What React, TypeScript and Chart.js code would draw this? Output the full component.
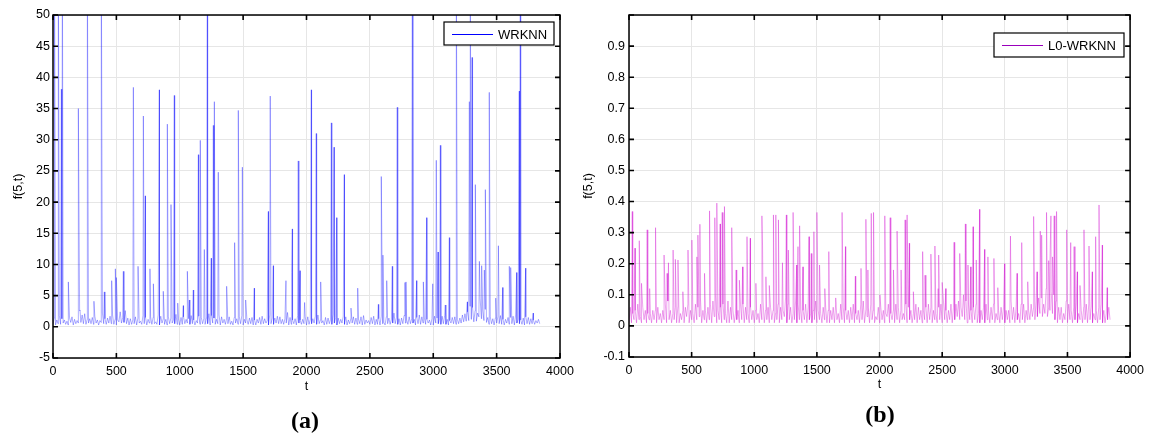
import React, { useEffect, useRef } from 'react';
import { Chart, registerables } from 'chart.js';

Chart.register(...registerables);

// ---------- data ----------
const tMin = 0;
const tMax = 4000;
const tStep = 500;
const baseStep = 10; // spacing (in t) of the background readings below

// Panel (a): WRKNN, background band (t = 0, 10, 20, ... 3840)
const baseA = [
  0.4, 1.4, 0.3, 1.1, 0.5, 1.8, 0.4, 1.3, 0.6, 1.1, 0.4, 0.9, 0.3, 1.5, 0.7, 1.6, 0.3, 1.2, 0.5, 1.0,
  0.6, 2.6, 0.7, 1.9, 0.5, 2.1, 0.4, 1.2, 0.6, 1.3, 0.5, 1.5, 0.4, 1.7, 0.6, 1.1, 0.3, 1.0, 0.7, 2.2,
  0.5, 1.3, 0.4, 1.4, 0.6, 1.7, 0.5, 1.9, 0.4, 1.2, 0.3, 1.1, 0.8, 2.4, 0.6, 1.5, 0.7, 2.6, 0.5, 1.4,
  0.3, 1.3, 0.4, 1.1, 0.5, 1.6, 0.3, 1.4, 0.6, 0.9, 0.4, 1.8, 0.5, 1.5, 0.3, 1.2, 0.6, 1.6, 0.4, 1.5,
  0.5, 0.8, 0.4, 1.9, 0.3, 1.7, 0.6, 1.3, 0.4, 1.2, 0.3, 1.6, 0.5, 1.4, 0.6, 1.1, 0.5, 2.0, 0.4, 1.3,
  0.3, 1.5, 0.4, 1.6, 0.5, 1.2, 0.6, 1.3, 0.4, 1.8, 0.5, 1.1, 0.3, 1.0, 0.6, 1.7, 0.4, 1.5, 0.5, 1.3,
  0.4, 1.4, 0.5, 2.1, 0.3, 1.8, 0.6, 1.4, 0.4, 1.2, 0.5, 1.9, 0.3, 1.6, 0.6, 1.2, 0.4, 1.4, 0.5, 1.6,
  0.4, 0.9, 0.3, 1.5, 0.6, 1.3, 0.4, 1.6, 0.5, 1.8, 0.3, 1.2, 0.6, 1.1, 0.4, 1.4, 0.5, 1.5, 0.3, 1.1,
  0.3, 1.2, 0.6, 1.5, 0.4, 1.7, 0.5, 1.3, 0.6, 1.0, 0.3, 1.9, 0.5, 1.4, 0.4, 1.4, 0.6, 1.7, 0.5, 1.6,
  0.5, 1.2, 0.4, 1.3, 0.6, 2.3, 0.3, 1.5, 0.4, 1.1, 0.5, 1.3, 0.3, 1.8, 0.6, 1.1, 0.4, 1.2, 0.5, 1.6,
  0.3, 1.6, 0.4, 1.2, 0.5, 1.3, 0.6, 1.7, 0.4, 1.9, 0.5, 1.1, 0.6, 1.0, 0.3, 1.5, 0.4, 1.4, 0.5, 1.2,
  0.4, 2.0, 0.6, 1.5, 0.3, 1.4, 0.5, 1.2, 0.6, 1.7, 0.4, 1.6, 0.3, 1.1, 0.5, 1.3, 0.6, 1.6, 0.4, 1.4,
  0.4, 1.3, 0.5, 1.6, 0.3, 1.8, 0.4, 1.1, 0.6, 1.0, 0.4, 1.5, 0.5, 1.7, 0.3, 1.2, 0.4, 1.3, 0.3, 1.7,
  0.5, 0.7, 0.3, 1.6, 0.5, 1.4, 0.4, 1.2, 0.6, 2.2, 0.5, 1.5, 0.4, 1.3, 0.3, 1.4, 0.5, 1.8, 0.6, 1.1,
  0.4, 1.6, 0.5, 1.3, 0.6, 1.2, 0.3, 1.5, 0.5, 1.9, 0.4, 1.6, 0.6, 1.4, 0.4, 1.2, 0.6, 1.1, 0.3, 1.3,
  0.3, 1.7, 0.6, 1.4, 0.5, 1.3, 0.4, 1.7, 0.5, 1.8, 0.4, 1.2, 0.3, 1.0, 0.6, 1.5, 0.5, 1.6, 0.4, 1.2,
  0.5, 1.4, 0.6, 1.9, 0.8, 2.1, 0.9, 2.4, 1.0, 3.3, 1.2, 3.1, 0.8, 2.6, 0.9, 2.2, 1.6, 4.5, 1.3, 2.7,
  1.0, 2.8, 0.7, 1.5, 0.4, 1.6, 0.5, 1.3, 0.3, 1.4, 0.6, 1.6, 0.5, 1.8, 0.4, 1.2, 0.3, 1.2, 0.6, 1.5,
  0.4, 1.5, 0.5, 1.7, 0.3, 1.9, 0.6, 1.2, 0.5, 1.1, 0.4, 1.4, 0.3, 1.6, 0.5, 1.5, 0.4, 1.3, 0.5, 1.1,
  0.4, 1.0, 0.6, 1.2, 0.5,
];

// Panel (a) spikes: [t, value] (values above 50 run off the top)
const spikesA: [number, number][] = [
  [12, 60], [42, 60], [66, 38.1], [74, 60], [121, 7.2], [200, 35], [213, 2.7], [271, 60],
  [323, 4.1], [381, 60], [405, 5.6], [463, 7.4], [492, 9.3], [500, 7.9], [555, 8.9],
  [634, 38.4], [671, 9.7], [713, 33.8], [728, 21], [765, 9.3], [792, 6.9], [839, 38],
  [870, 5.7], [902, 32.5], [931, 19.6], [957, 37.1], [984, 3.8], [1028, 3.4], [1060, 8.9],
  [1076, 4.3], [1107, 5.9], [1147, 27.6], [1162, 29.9], [1194, 12.4], [1212, 9.4],
  [1218, 60], [1249, 11], [1265, 32.3], [1273, 36.1], [1304, 24.8], [1370, 6.5],
  [1433, 13.5], [1462, 34.7], [1494, 25.6], [1520, 4.3], [1588, 6.2], [1699, 18.5],
  [1714, 37], [1738, 9.8], [1838, 7.4], [1883, 8.7], [1888, 15.7], [1935, 26.6], [1949, 9],
  [1985, 3.9], [2038, 38], [2077, 31], [2112, 7.2], [2196, 32.7], [2217, 28.8],
  [2238, 17.5], [2298, 24.4], [2351, 3], [2404, 6.2], [2567, 3.6], [2590, 24.1],
  [2603, 11.5], [2633, 7.4], [2677, 9.7], [2716, 35.2], [2777, 7.1], [2785, 7.2],
  [2835, 60], [2869, 7.4], [2922, 7.2], [2948, 17.5], [2996, 6.9], [3024, 26.7],
  [3038, 12], [3056, 29.1], [3095, 3.5], [3127, 14.3], [3182, 60], [3269, 4],
  [3285, 36.1], [3292, 60], [3301, 6], [3306, 43.2], [3332, 22.8], [3364, 10.5],
  [3382, 9.8], [3403, 9.1], [3411, 22], [3442, 37.6], [3493, 4.6], [3514, 13],
  [3548, 6.3], [3600, 9.7], [3611, 9.5], [3658, 8.7], [3679, 37.8], [3687, 60],
  [3729, 9.4], [3789, 2.2],
];

// Panel (b): L0-WRKNN, background band (t = 0, 10, 20, ... 3840)
const baseB = [
  0.01, 0.06, 0.01, 0.04, 0.02, 0.05, 0.01, 0.07, 0.02, 0.03, 0.01, 0.06, 0.02, 0.05, 0.01, 0.04, 0.02, 0.04, 0.01, 0.05,
  0.02, 0.05, 0.01, 0.06, 0.02, 0.04, 0.01, 0.05, 0.02, 0.07, 0.01, 0.08, 0.02, 0.05, 0.01, 0.04, 0.02, 0.06, 0.01, 0.06,
  0.01, 0.04, 0.02, 0.05, 0.01, 0.06, 0.03, 0.07, 0.01, 0.05, 0.02, 0.04, 0.01, 0.07, 0.02, 0.06, 0.03, 0.09, 0.01, 0.05,
  0.02, 0.05, 0.01, 0.06, 0.02, 0.07, 0.01, 0.08, 0.03, 0.10, 0.01, 0.05, 0.02, 0.06, 0.01, 0.07, 0.02, 0.04, 0.01, 0.08,
  0.01, 0.06, 0.02, 0.05, 0.01, 0.04, 0.02, 0.05, 0.01, 0.07, 0.02, 0.07, 0.01, 0.06, 0.02, 0.04, 0.01, 0.06, 0.02, 0.05,
  0.01, 0.05, 0.02, 0.04, 0.01, 0.07, 0.02, 0.08, 0.01, 0.05, 0.02, 0.06, 0.01, 0.06, 0.02, 0.05, 0.01, 0.04, 0.02, 0.07,
  0.01, 0.06, 0.02, 0.05, 0.03, 0.09, 0.01, 0.07, 0.02, 0.06, 0.01, 0.04, 0.02, 0.08, 0.01, 0.07, 0.02, 0.05, 0.01, 0.05,
  0.02, 0.07, 0.01, 0.06, 0.02, 0.04, 0.01, 0.05, 0.02, 0.08, 0.01, 0.05, 0.02, 0.04, 0.01, 0.06, 0.02, 0.06, 0.01, 0.05,
  0.01, 0.05, 0.02, 0.06, 0.01, 0.07, 0.02, 0.04, 0.01, 0.07, 0.02, 0.06, 0.01, 0.05, 0.02, 0.05, 0.01, 0.06, 0.02, 0.07,
  0.01, 0.04, 0.02, 0.05, 0.01, 0.07, 0.02, 0.08, 0.01, 0.05, 0.03, 0.06, 0.01, 0.07, 0.02, 0.05, 0.01, 0.03, 0.02, 0.06,
  0.01, 0.06, 0.02, 0.05, 0.01, 0.04, 0.03, 0.07, 0.01, 0.04, 0.02, 0.05, 0.01, 0.07, 0.02, 0.06, 0.01, 0.05, 0.02, 0.04,
  0.02, 0.07, 0.01, 0.06, 0.02, 0.05, 0.01, 0.04, 0.02, 0.07, 0.01, 0.06, 0.02, 0.05, 0.01, 0.05, 0.02, 0.06, 0.01, 0.07,
  0.02, 0.06, 0.01, 0.05, 0.02, 0.04, 0.01, 0.06, 0.02, 0.07, 0.01, 0.08, 0.02, 0.05, 0.01, 0.05, 0.02, 0.07, 0.01, 0.06,
  0.02, 0.07, 0.03, 0.08, 0.02, 0.06, 0.03, 0.10, 0.02, 0.08, 0.01, 0.07, 0.02, 0.05, 0.01, 0.06, 0.02, 0.07, 0.01, 0.04,
  0.01, 0.05, 0.02, 0.06, 0.01, 0.07, 0.02, 0.05, 0.01, 0.06, 0.02, 0.07, 0.01, 0.04, 0.02, 0.05, 0.01, 0.06, 0.02, 0.06,
  0.01, 0.05, 0.02, 0.05, 0.01, 0.08, 0.02, 0.06, 0.01, 0.06, 0.02, 0.04, 0.01, 0.07, 0.02, 0.07, 0.01, 0.05, 0.02, 0.05,
  0.02, 0.07, 0.03, 0.06, 0.02, 0.08, 0.03, 0.09, 0.04, 0.09, 0.03, 0.07, 0.04, 0.12, 0.03, 0.06, 0.05, 0.11, 0.04, 0.10,
  0.02, 0.08, 0.01, 0.06, 0.02, 0.06, 0.01, 0.04, 0.02, 0.08, 0.01, 0.07, 0.02, 0.05, 0.01, 0.06, 0.02, 0.07, 0.01, 0.04,
  0.02, 0.05, 0.01, 0.06, 0.02, 0.07, 0.01, 0.07, 0.02, 0.06, 0.01, 0.04, 0.02, 0.05, 0.01, 0.06, 0.02, 0.07, 0.01, 0.05,
  0.01, 0.04, 0.02, 0.06, 0.02,
];

// Panel (b) spikes: [t, value]
const spikesB: [number, number][] = [
  [26, 0.368], [48, 0.25], [82, 0.274], [100, 0.137], [145, 0.309], [165, 0.12], [212, 0.316],
  [280, 0.228], [304, 0.169], [315, 0.203], [352, 0.244], [370, 0.214], [391, 0.212],
  [430, 0.11], [471, 0.244], [502, 0.276], [542, 0.222], [550, 0.292], [566, 0.327],
  [603, 0.169], [643, 0.37], [685, 0.348], [701, 0.395], [728, 0.328], [744, 0.365],
  [762, 0.384], [820, 0.316], [855, 0.18], [881, 0.147], [907, 0.19], [942, 0.287],
  [968, 0.282], [1013, 0.137], [1061, 0.354], [1066, 0.26], [1093, 0.158], [1120, 0.13],
  [1153, 0.357], [1172, 0.357], [1193, 0.341], [1225, 0.203], [1256, 0.357], [1272, 0.244],
  [1310, 0.365], [1339, 0.196], [1349, 0.255], [1362, 0.322], [1389, 0.19], [1437, 0.287],
  [1455, 0.233], [1476, 0.303], [1500, 0.365], [1521, 0.196], [1563, 0.12], [1595, 0.239],
  [1650, 0.09], [1701, 0.365], [1728, 0.255], [1807, 0.16], [1852, 0.185], [1891, 0.343],
  [1907, 0.18], [1934, 0.362], [1952, 0.365], [2003, 0.1], [2042, 0.354], [2085, 0.348],
  [2111, 0.18], [2140, 0.305], [2172, 0.18], [2204, 0.341], [2220, 0.357], [2238, 0.266],
  [2270, 0.11], [2344, 0.239], [2363, 0.163], [2410, 0.231], [2442, 0.257], [2468, 0.12],
  [2474, 0.228], [2500, 0.14], [2529, 0.12], [2595, 0.269], [2640, 0.233], [2685, 0.328],
  [2706, 0.196], [2728, 0.19], [2746, 0.319], [2772, 0.212], [2799, 0.375], [2839, 0.246],
  [2865, 0.222], [2913, 0.217], [2944, 0.123], [2998, 0.2], [3045, 0.289], [3098, 0.169],
  [3135, 0.268], [3183, 0.142], [3230, 0.352], [3257, 0.174], [3283, 0.305], [3294, 0.292],
  [3333, 0.365], [3350, 0.21], [3360, 0.2], [3368, 0.354], [3381, 0.222], [3394, 0.354],
  [3413, 0.368], [3494, 0.309], [3526, 0.268], [3553, 0.255], [3579, 0.174], [3600, 0.13],
  [3632, 0.309], [3672, 0.257], [3698, 0.174], [3725, 0.287], [3752, 0.389], [3778, 0.26],
  [3817, 0.123],
];

// ---------- helpers ----------
const FONT = 'Liberation Sans, Arial, Helvetica, sans-serif';
const TICK_FONT_SIZE = 12.5;

function mergeSeries(base: number[], spikes: [number, number][]) {
  const pts = base.map((v, i) => ({ x: i * baseStep, y: v }));
  spikes.forEach(([x, y]) => pts.push({ x, y }));
  pts.sort((a, b) => a.x - b.x);
  return pts;
}

type PanelCfg = {
  data: { x: number; y: number }[];
  label: string;
  lineColor: string;
  legendColor: string;
  yMin: number;
  yMax: number;
  yStep: number;
  yAxisW: number;
  xAxisH: number;
  padRight: number;
  yLabelPad: number;
  yTitlePad: number;
  xTitlePad: number;
  legendBox: { x: number; y: number; w: number; h: number };
  yFmt: (v: number) => string;
};

function framePlugin(cfg: PanelCfg) {
  return {
    id: 'matlabFrame',
    afterDraw(chart: any) {
      const { ctx, chartArea } = chart;
      const { left, right, top, bottom } = chartArea;
      const xs = chart.scales.x;
      const ys = chart.scales.y;
      ctx.save();
      ctx.strokeStyle = '#000';
      ctx.lineWidth = 1.5;
      ctx.strokeRect(left, top, right - left, bottom - top);
      ctx.lineWidth = 1.6;
      ctx.beginPath();
      xs.ticks.forEach((t: any) => {
        const px = xs.getPixelForValue(t.value);
        ctx.moveTo(px, bottom);
        ctx.lineTo(px, bottom - 5);
        ctx.moveTo(px, top);
        ctx.lineTo(px, top + 5);
      });
      ys.ticks.forEach((t: any) => {
        const py = ys.getPixelForValue(t.value);
        ctx.moveTo(left, py);
        ctx.lineTo(left + 5, py);
        ctx.moveTo(right, py);
        ctx.lineTo(right - 5, py);
      });
      ctx.stroke();

      // legend box
      const b = cfg.legendBox;
      ctx.fillStyle = '#fff';
      ctx.fillRect(b.x, b.y, b.w, b.h);
      ctx.lineWidth = 1.2;
      ctx.strokeStyle = '#000';
      ctx.strokeRect(b.x, b.y, b.w, b.h);
      const cy = Math.round(b.y + b.h / 2) + 0.5;
      ctx.strokeStyle = cfg.legendColor;
      ctx.lineWidth = 1.2;
      ctx.beginPath();
      ctx.moveTo(b.x + 8, cy);
      ctx.lineTo(b.x + 49, cy);
      ctx.stroke();
      ctx.fillStyle = '#000';
      ctx.font = `13px ${FONT}`;
      ctx.textBaseline = 'middle';
      ctx.textAlign = 'left';
      ctx.fillText(cfg.label, b.x + 54, cy + 0.5);
      ctx.restore();
    },
  };
}

function Panel({ cfg, left, width }: { cfg: PanelCfg; left: number; width: number }) {
  const ref = useRef<HTMLCanvasElement | null>(null);
  useEffect(() => {
    if (!ref.current) return;
    const tickFont = { family: FONT, size: TICK_FONT_SIZE };
    const chart = new Chart(ref.current, {
      type: 'line',
      data: {
        datasets: [
          {
            label: cfg.label,
            data: cfg.data,
            borderColor: cfg.lineColor,
            borderWidth: 1,
            pointRadius: 0,
            tension: 0,
            fill: false,
          },
        ],
      },
      options: {
        animation: false,
        responsive: false,
        maintainAspectRatio: false,
        layout: { padding: { top: 15, right: cfg.padRight, bottom: 0, left: 0 } },
        plugins: { legend: { display: false }, tooltip: { enabled: false } },
        scales: {
          x: {
            type: 'linear',
            min: tMin,
            max: tMax,
            ticks: {
              stepSize: tStep,
              padding: 6,
              color: '#000',
              font: tickFont,
              maxRotation: 0,
              autoSkip: false,
              callback: (v: any) => String(v),
            },
            grid: { color: '#e6e6e6', lineWidth: 1, drawTicks: false },
            border: { display: false },
            title: { display: true, text: 't', color: '#000', font: tickFont, padding: { top: 0, bottom: cfg.xTitlePad } },
            afterFit: (s: any) => {
              s.height = cfg.xAxisH;
            },
          },
          y: {
            type: 'linear',
            min: cfg.yMin,
            max: cfg.yMax,
            ticks: {
              stepSize: cfg.yStep,
              padding: cfg.yLabelPad,
              color: '#000',
              font: tickFont,
              autoSkip: false,
              callback: (v: any) => cfg.yFmt(Number(v)),
            },
            grid: { color: '#e6e6e6', lineWidth: 1, drawTicks: false },
            border: { display: false },
            title: { display: true, text: 'f(5,t)', color: '#000', font: tickFont, padding: { top: cfg.yTitlePad, bottom: 0 } },
            afterFit: (s: any) => {
              s.width = cfg.yAxisW;
            },
          },
        },
      } as any,
      plugins: [framePlugin(cfg)],
    });
    return () => chart.destroy();
  }, [cfg]);
  return (
    <canvas
      ref={ref}
      width={width}
      height={436}
      style={{ position: 'absolute', left, top: 0, width, height: 436 }}
    />
  );
}

const cfgA: PanelCfg = {
  data: mergeSeries(baseA, spikesA),
  label: 'WRKNN',
  lineColor: 'rgba(20,20,255,0.34)',
  legendColor: '#0000ff',
  yMin: -5,
  yMax: 50,
  yStep: 5,
  yAxisW: 53,
  xAxisH: 78,
  padRight: 20,
  yLabelPad: 3,
  yTitlePad: 11,
  xTitlePad: 42,
  legendBox: { x: 444, y: 22, w: 110, h: 23 },
  yFmt: (v) => String(Math.round(v)),
};

const cfgB: PanelCfg = {
  data: mergeSeries(baseB, spikesB),
  label: 'L0-WRKNN',
  lineColor: 'rgba(210,20,210,0.38)',
  legendColor: '#9900bb',
  yMin: -0.1,
  yMax: 1.0,
  yStep: 0.1,
  yAxisW: 49,
  xAxisH: 79,
  padRight: 17,
  yLabelPad: 4,
  yTitlePad: 1,
  xTitlePad: 44,
  legendBox: { x: 414, y: 33, w: 130, h: 24 },
  yFmt: (v) => (Math.abs(v - 1) < 1e-6 ? '' : String(Math.round(v * 10) / 10)),
};

const captionStyle: React.CSSProperties = {
  position: 'absolute',
  fontFamily: 'Liberation Serif, Times New Roman, serif',
  fontWeight: 'bold',
  fontSize: 24,
  lineHeight: '24px',
  transform: 'translate(-50%, -50%)',
  color: '#000',
  whiteSpace: 'nowrap',
};

export default function App() {
  return (
    <div style={{ position: 'absolute', left: 0, top: 0, width: 1150, height: 436, background: '#fff', overflow: 'hidden' }}>
      <Panel cfg={cfgA} left={0} width={580} />
      <Panel cfg={cfgB} left={580} width={570} />
      <div style={{ ...captionStyle, left: 305, top: 420 }}>(a)</div>
      <div style={{ ...captionStyle, left: 880, top: 414 }}>(b)</div>
    </div>
  );
}
